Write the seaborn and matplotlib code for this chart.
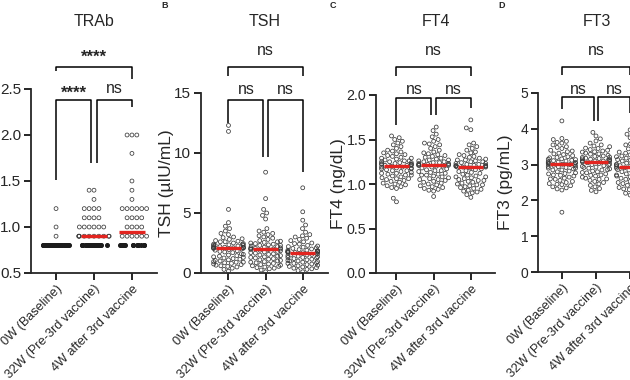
import numpy as np
import pandas as pd
import matplotlib.pyplot as plt
import matplotlib.transforms as mtransforms
import seaborn as sns

#-- Data:

groups = ['0W (Baseline)', '32W (Pre-3rd vaccine)', '4W after 3rd vaccine']

# TRAb: values sit on a 0.1 grid, so keep levels + counts per group
trab_levels = [0.8, 0.9, 1.0, 1.1, 1.2, 1.3, 1.4, 1.5, 1.8, 2.0]
trab_counts_0w = [50, 1, 1, 0, 1, 0, 0, 0, 0, 0]
trab_counts_32w = [26, 10, 6, 4, 4, 1, 2, 0, 0, 0]
trab_counts_4w = [15, 6, 4, 4, 6, 1, 1, 1, 1, 3]

tsh_0w = [12.3, 11.8, 5.3, 4.2, 3.9, 3.7, 3.5, 3.3, 3.2, 3.0, 2.95, 2.85, 2.8, 2.7, 2.65,
          2.6, 2.5, 2.45, 2.4, 2.35, 2.3, 2.3, 2.25, 2.2, 2.2, 2.15, 2.15, 2.1, 2.1, 2.1,
          2.08, 2.07, 2.3, 2.4, 2.6, 2.05, 2.0, 1.95, 1.9, 1.85, 1.8, 1.75, 1.7, 1.6, 1.55,
          1.5, 1.45, 1.4, 1.35, 1.3, 1.25, 1.2, 1.15, 1.1, 1.05, 1.0, 0.95, 0.9, 0.9, 0.85,
          0.8, 0.75, 0.7, 0.65, 0.6, 0.55, 0.5, 0.4, 0.3, 0.15]
tsh_32w = [8.4, 6.2, 5.3, 5.0, 4.8, 4.5, 3.7, 3.5, 3.4, 3.3, 3.1, 3.0, 2.9, 2.8, 2.7,
           2.6, 2.55, 2.5, 2.45, 2.4, 2.35, 2.3, 2.25, 2.2, 2.15, 2.1, 2.05, 2.0, 2.0, 2.0,
           3.2, 2.65, 2.3, 2.1, 1.98, 1.96, 1.9, 1.85, 1.8, 1.75, 1.7, 1.65, 1.6, 1.55, 1.5,
           1.45, 1.4, 1.35, 1.3, 1.25, 1.2, 1.15, 1.1, 1.05, 1.0, 0.95, 0.9, 0.85, 0.8, 0.75,
           0.7, 0.65, 0.6, 0.55, 0.5, 0.45, 0.4, 0.35, 0.25, 0.1]
tsh_4w = [7.1, 5.1, 4.4, 4.0, 3.7, 3.4, 3.2, 3.0, 2.8, 2.7, 2.6, 2.5, 2.4, 2.3, 2.2,
          2.15, 2.1, 2.05, 2.0, 1.95, 1.9, 1.9, 1.85, 1.85, 1.8, 1.8, 1.78, 1.75, 1.75, 1.72,
          2.25, 2.45, 2.9, 3.1, 1.71, 1.69, 1.65, 1.6, 1.55, 1.5, 1.5, 1.45, 1.4, 1.35, 1.3,
          1.3, 1.25, 1.2, 1.15, 1.1, 1.05, 1.0, 1.0, 0.95, 0.9, 0.85, 0.8, 0.8, 0.75, 0.7,
          0.65, 0.6, 0.55, 0.5, 0.45, 0.4, 0.35, 0.3, 0.2, 0.1]

ft4_0w = [1.54, 1.52, 1.50, 1.48, 1.46, 1.44, 1.42, 1.40, 1.38, 1.37, 1.35, 1.34, 1.32, 1.31,
          1.30, 1.29, 1.28, 1.27, 1.26, 1.26, 1.25, 1.25, 1.24, 1.24, 1.23, 1.23, 1.22, 1.22,
          1.22, 1.21, 1.21, 1.21, 1.33, 1.36, 1.29, 1.20, 1.19, 1.19, 1.18, 1.18, 1.17, 1.17,
          1.16, 1.15, 1.15, 1.14, 1.13, 1.12, 1.11, 1.10, 1.10, 1.09, 1.08, 1.07, 1.06, 1.05,
          1.04, 1.03, 1.02, 1.01, 1.00, 0.99, 0.98, 0.97, 0.96, 0.95, 0.84, 0.80, 1.12, 1.06]
ft4_32w = [1.64, 1.60, 1.56, 1.53, 1.50, 1.48, 1.46, 1.44, 1.42, 1.40, 1.38, 1.36, 1.35, 1.33,
           1.32, 1.30, 1.29, 1.28, 1.27, 1.26, 1.25, 1.25, 1.24, 1.24, 1.23, 1.23, 1.22, 1.22,
           1.22, 1.21, 1.21, 1.34, 1.31, 1.27, 1.45, 1.21, 1.20, 1.20, 1.19, 1.18, 1.17, 1.16,
           1.15, 1.14, 1.13, 1.12, 1.11, 1.10, 1.09, 1.08, 1.07, 1.06, 1.05, 1.04, 1.03, 1.02,
           1.01, 1.00, 0.99, 0.98, 0.97, 0.96, 0.95, 0.94, 0.93, 0.92, 0.86, 1.15, 1.10, 1.05]
ft4_4w = [1.72, 1.63, 1.61, 1.46, 1.44, 1.42, 1.40, 1.38, 1.36, 1.35, 1.33, 1.32, 1.30, 1.29,
          1.28, 1.27, 1.26, 1.25, 1.24, 1.23, 1.22, 1.22, 1.21, 1.21, 1.20, 1.20, 1.20, 1.20,
          1.19, 1.19, 1.31, 1.27, 1.23, 1.25, 1.21, 1.19, 1.18, 1.17, 1.16, 1.15, 1.14, 1.13,
          1.12, 1.11, 1.10, 1.09, 1.08, 1.07, 1.06, 1.05, 1.04, 1.03, 1.02, 1.01, 1.00, 0.99,
          0.98, 0.97, 0.96, 0.95, 0.94, 0.93, 0.92, 0.91, 0.90, 0.88, 0.85, 1.08, 1.04, 0.99]

ft3_0w = [4.22, 3.73, 3.70, 3.65, 3.60, 3.55, 3.50, 3.45, 3.40, 3.36, 3.32, 3.28, 3.25, 3.22,
          3.19, 3.16, 3.14, 3.12, 3.10, 3.08, 3.07, 3.06, 3.05, 3.04, 3.03, 3.02, 3.01, 3.01,
          3.30, 3.20, 3.11, 3.48, 3.62, 3.38, 3.15, 3.00, 2.98, 2.96, 2.94, 2.92, 2.90, 2.88,
          2.85, 2.82, 2.80, 2.77, 2.74, 2.71, 2.68, 2.65, 2.62, 2.59, 2.56, 2.53, 2.50, 2.47,
          2.44, 2.41, 2.38, 2.35, 2.32, 2.29, 1.67, 2.90, 2.85, 2.75, 2.60, 2.45, 2.95, 2.70]
ft3_32w = [3.90, 3.80, 3.72, 3.66, 3.60, 3.55, 3.50, 3.46, 3.42, 3.38, 3.35, 3.32, 3.29, 3.26,
           3.23, 3.20, 3.18, 3.16, 3.14, 3.12, 3.11, 3.10, 3.09, 3.09, 3.30, 3.24, 3.17, 3.13,
           3.40, 3.52, 3.21, 3.15, 3.10, 3.36, 3.45, 3.07, 3.05, 3.03, 3.01, 2.99, 2.97, 2.95,
           2.93, 2.90, 2.88, 2.85, 2.82, 2.80, 2.77, 2.74, 2.71, 2.68, 2.65, 2.62, 2.59, 2.56,
           2.53, 2.50, 2.46, 2.42, 2.38, 2.33, 2.28, 2.24, 3.00, 2.92, 2.86, 2.78, 2.70, 2.60]
ft3_4w = [3.97, 3.85, 3.75, 3.66, 3.58, 3.50, 3.44, 3.38, 3.32, 3.27, 3.22, 3.18, 3.14, 3.10,
          3.07, 3.04, 3.01, 2.99, 2.97, 2.96, 2.95, 2.95, 3.30, 3.20, 3.12, 3.05, 3.00, 3.40,
          3.24, 3.08, 2.98, 3.55, 3.35, 3.16, 2.97, 2.93, 2.91, 2.89, 2.86, 2.83, 2.80, 2.77,
          2.74, 2.71, 2.68, 2.65, 2.62, 2.59, 2.56, 2.53, 2.50, 2.47, 2.44, 2.40, 2.36, 2.32,
          2.28, 2.24, 2.20, 2.15, 2.90, 2.85, 2.78, 2.70, 2.60, 2.50, 2.42, 2.30, 2.88, 2.66]

#-- Style:

sns.set_style('ticks')
plt.rcParams['font.family'] = ['Liberation Sans', 'DejaVu Sans']
plt.rcParams['axes.linewidth'] = 1.3

RED = '#e3241f'
PT = '#3a3a3a'
W, H = 630, 380
PT_SIZE = 2.8

np.random.seed(3)


def long_df(*series):
    return pd.DataFrame({'group': np.repeat(groups, [len(s) for s in series]),
                         'value': np.concatenate([np.asarray(s, float) for s in series])})


def make_ax(fig, box):
    l, t, r, b = box
    return fig.add_axes([l / W, 1 - b / H, (r - l) / W, (b - t) / H])


def hollow(ax, start, stop=None, face='none', color=PT, lw=0.55):
    for c in ax.collections[start:stop]:
        c.set_facecolor(face)
        c.set_edgecolor(color)
        c.set_linewidth(lw)


def medians(ax, df):
    sns.boxplot(data=df, x='group', y='value', order=groups, ax=ax, width=0.68,
                showbox=False, showcaps=False, showfliers=False, whis=0,
                medianprops=dict(color=RED, linewidth=2.4, zorder=4),
                whiskerprops=dict(visible=False))


def bracket(ax, x1, x2, y, y1, y2):
    ax.plot([x1, x1, x2, x2], [y1, y, y, y2], color='k', lw=1.1, clip_on=False,
            solid_capstyle='butt', zorder=5)


def sig(ax, x, y, label):
    if label == 'ns':
        ax.annotate(label, (x, y), xytext=(0, -3.2), textcoords='offset points',
                    ha='center', va='baseline', fontsize=11.5, annotation_clip=False)
    else:
        ax.annotate(label, (x, y), xytext=(0, -6.5), textcoords='offset points',
                    ha='center', va='baseline', fontsize=12, fontweight='bold',
                    annotation_clip=False)


def finish(ax, ylim, yticks, xlim, ylabel, fmt, tick_fs, pad, brk, title, title_x):
    ax.set_ylim(ylim)
    ax.set_yticks(yticks)
    ax.set_yticklabels([fmt.format(v) for v in yticks])
    ax.set_xlim(xlim)
    ax.set_xticks(range(3))
    ax.set_xticklabels(groups, rotation=45, ha='right', rotation_mode='anchor', fontsize=9.2)
    shift = mtransforms.ScaledTranslation(3 / 72, -6 / 72, fig.dpi_scale_trans)
    for lab in ax.get_xticklabels():
        lab.set_transform(lab.get_transform() + shift)
    ax.set_xlabel('')
    ax.set_ylabel(ylabel, fontsize=12.5, labelpad=pad)
    ax.tick_params(axis='both', length=5, width=1.2, color='k', pad=2)
    ax.tick_params(axis='y', labelsize=tick_fs)
    sns.despine(ax=ax)
    # significance brackets: top (0 vs 2), then 0 vs 1 and 1 vs 2
    top_y, tl, tr, top_t, top_lab, low_y, b1l, b1r, b2l, b2r, low_t, lab1, lab2 = brk
    bracket(ax, 0, 2, top_y, tl, tr)
    sig(ax, 1, top_t, top_lab)
    bracket(ax, 0, 0.93, low_y, b1l, b1r)
    bracket(ax, 1.07, 2, low_y, b2l, b2r)
    sig(ax, 0.47, low_t, lab1)
    sig(ax, 1.53, low_t, lab2)
    fig.text(title_x / W, 1 - 22 / H, title, ha='center', va='center', fontsize=11.5)


fig = plt.figure(figsize=(6.3, 3.8), dpi=100)

#- A: TRAb

trab_df = long_df(np.repeat(trab_levels, trab_counts_0w),
                  np.repeat(trab_levels, trab_counts_32w),
                  np.repeat(trab_levels, trab_counts_4w))
floor = trab_df['value'] <= trab_levels[0]

ax = make_ax(fig, (31, 89, 157, 273))
medians(ax, trab_df)
n0 = len(ax.collections)
sns.swarmplot(data=trab_df[~floor], x='group', y='value', order=groups, ax=ax,
              size=PT_SIZE, color=PT, zorder=3)
n1 = len(ax.collections)
sns.stripplot(data=trab_df[floor], x='group', y='value', order=groups, ax=ax,
              size=PT_SIZE, color=PT, jitter=0.36, zorder=6)
hollow(ax, n0, n1)
# the values piled up at the assay floor overlap into a solid bar
hollow(ax, n1, face='#1c1c1c', color='#1c1c1c', lw=0.8)
finish(ax, (0.5, 2.5), [0.5, 1.0, 1.5, 2.0, 2.5], (-0.66, 2.66), '', '{:.1f}', 11, 4,
       (2.74, 2.70, 2.61, 2.89, '****', 2.38, 1.51, 1.70, 1.70, 2.30, 2.5, '****', 'ns'),
       'TRAb', 94)

#- B: TSH

tsh_df = long_df(tsh_0w, tsh_32w, tsh_4w)
ax = make_ax(fig, (201, 93, 328, 273))
sns.swarmplot(data=tsh_df, x='group', y='value', order=groups, ax=ax, size=PT_SIZE, color=PT)
hollow(ax, 0)
medians(ax, tsh_df)
finish(ax, (0, 15), [0, 5, 10, 15], (-0.74, 2.68), 'TSH (\u00b5IU/mL)', '{:.0f}', 11, 0.5,
       (17.2, 16.4, 16.4, 18.5, 'ns', 14.4, 12.5, 9.67, 9.67, 8.4, 15.3, 'ns', 'ns'),
       'TSH', 265)

#- C: FT4

ft4_df = long_df(ft4_0w, ft4_32w, ft4_4w)
ax = make_ax(fig, (376, 95, 495, 273))
sns.swarmplot(data=ft4_df, x='group', y='value', order=groups, ax=ax, size=PT_SIZE, color=PT)
hollow(ax, 0)
medians(ax, ft4_df)
finish(ax, (0, 2), [0.0, 0.5, 1.0, 1.5, 2.0], (-0.55, 2.65), 'FT4 (ng/dL)', '{:.1f}', 10.3, 0.5,
       (2.32, 2.21, 2.21, 2.50, 'ns', 1.97, 1.66, 1.78, 1.78, 1.85, 2.06, 'ns', 'ns'),
       'FT4', 436)

#- D: FT3

ft3_df = long_df(ft3_0w, ft3_32w, ft3_4w)
ax = make_ax(fig, (538, 93, 654, 272))
sns.swarmplot(data=ft3_df, x='group', y='value', order=groups, ax=ax, size=PT_SIZE, color=PT)
hollow(ax, 0)
medians(ax, ft3_df)
finish(ax, (0, 5), [0, 1, 2, 3, 4, 5], (-0.7, 2.7), 'FT3 (pg/mL)', '{:.0f}', 10, 5,
       (5.73, 5.5, 5.5, 6.18, 'ns', 4.9, 4.55, 4.23, 4.23, 4.44, 5.1, 'ns', 'ns'),
       'FT3', 597)

#- Panel letters

for letter, px in [('B', 165), ('C', 333), ('D', 502)]:
    fig.text(px / W, 1 - 6 / H, letter, ha='center', va='center', fontsize=6.5, fontweight='bold')

fig.savefig('out.png', dpi=100)
